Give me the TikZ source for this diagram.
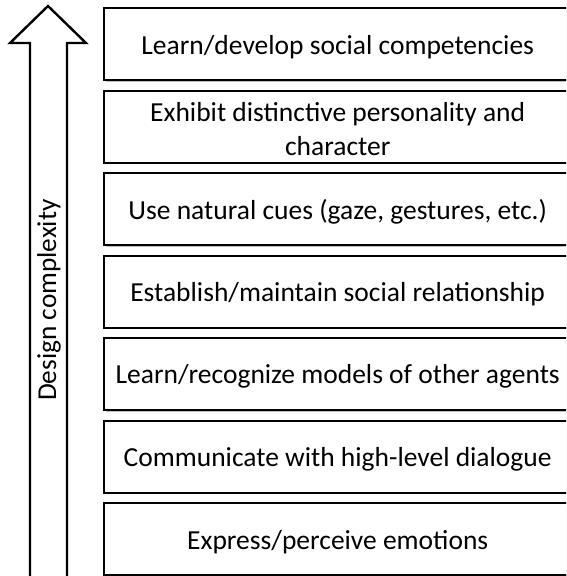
\documentclass[tikz,border=0pt]{standalone}
\usepackage{fontspec}
\setmainfont{Carlito}
\usetikzlibrary{shadows}
\begin{document}
\begin{tikzpicture}[x=1pt,y=-1pt,
  levelbox/.style={draw=black, line width=2.4pt, fill=white, minimum width=467pt, minimum height=72pt, anchor=north west, inner sep=0pt,
    drop shadow={shadow xshift=1.5pt, shadow yshift=-1.5pt, opacity=0.25, fill=black}},
  boxtext/.style={align=center, inner sep=0pt, font=\fontsize{27.5}{34}\selectfont},
  bigarrow/.style={draw=black, line width=2.4pt, fill=white, line join=miter}]
\useasboundingbox (0,0) rectangle (566,576);
\begin{scope}
\clip (0,0) rectangle (566,576);
\node[levelbox] (b1) at (103,7) {};
\node[levelbox] (b2) at (103,89.5) {};
\node[levelbox] (b3) at (103,172) {};
\node[levelbox] (b4) at (103,254.5) {};
\node[levelbox] (b5) at (103,337) {};
\node[levelbox] (b6) at (103,419.5) {};
\node[levelbox] (b7) at (103,502) {};
\draw[bigarrow] (30,580) -- (30,43) -- (10,43) -- (48,6) -- (86,43) -- (67,43) -- (67,580);
\end{scope}
\node[boxtext] (t1) at ([yshift=-2.5pt]b1.center) {Learn/develop social competencies};
\node[boxtext] (t2) at ([yshift=-2.5pt]b2.center) {Exhibit distinctive personality and\\character};
\node[boxtext] (t3) at ([yshift=-2.5pt]b3.center) {Use natural cues (gaze, gestures, etc.)};
\node[boxtext] (t4) at ([yshift=-2.5pt]b4.center) {Establish/maintain social relationship};
\node[boxtext] (t5) at ([yshift=-2.5pt]b5.center) {Learn/recognize models of other agents};
\node[boxtext] (t6) at ([yshift=-2.5pt]b6.center) {Communicate with high-level dialogue};
\node[boxtext] (t7) at ([yshift=-2.5pt]b7.center) {Express/perceive emotions};
\node[rotate=90, font=\fontsize{27.3}{32}\selectfont] (lab) at (49,300) {Design complexity};
\end{tikzpicture}
\end{document}
